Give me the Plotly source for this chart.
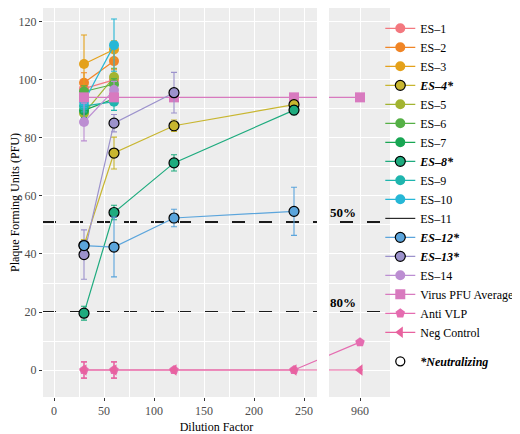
import plotly.graph_objects as go

# dilution factors
dil = [30, 60, 120, 240]
dil_ctrl = [30, 60, 120, 240, 960]
dil_short = [30, 60]

# non neutralizing sera (only two dilutions)
es1 = [97, 100]
es1_err = [2, 2]
es2 = [99, 106.5]
es2_err = [3.5, 3]
es3 = [105.5, 110.5]
es3_err = [10, 3]
es5 = [88.5, 101]
es5_err = [2, 3]
es6 = [96, 98.5]
es6_err = [2, 2]
es7 = [89.5, 93.5]
es7_err = [2.5, 2]
es9 = [91, 92.5]
es9_err = [2, 3]
es10 = [92.5, 112]
es10_err = [2, 9]
es14 = [85.5, 96.5]
es14_err = [6.5, 3]

# neutralizing sera
es4 = [43, 74.8, 84.2, 91.5]
es4_err = [2, 5.5, 2, 1.5]
es8 = [19.6, 54.3, 71.4, 89.6]
es8_err = [2.4, 2.5, 2.8, 1.6]
es12 = [42.9, 42.4, 52.4, 54.7]
es12_err = [1.5, 10.3, 3, 8.3]
es13 = [39.8, 85.1, 95.6]
es13_err = [8.5, 3, 7]

# controls
virus = [94, 94, 94, 94, 94]
anti_vlp = [0, 0, 0, 0, 9.6]
anti_vlp_err = [2.8, 2.8, 0, 0, 0]
neg_ctrl = [0, 0, 0, 0, 0]
neg_ctrl_err = [2.8, 2.8, 0, 0, 0]

cut_50 = 51
cut_80 = 20

x_ticks = [0, 50, 100, 150, 200, 250, 960]
x_minor = [25, 75, 125, 175, 225]

FONT = "Liberation Serif, Times New Roman, serif"


# broken x axis: everything past the break is shifted left
def brk(v):
    return v if v <= 263 else v - 654


def bx(lst):
    return [brk(v) for v in lst]


fig = go.Figure()


def add(label, x, y, err, color, symbol="circle", neut=False, r=0):
    fig.add_trace(go.Scatter(
        x=bx(x), y=y, name=label, mode="lines+markers",
        line=dict(color=color, width=1.2),
        marker=dict(symbol=symbol, size=10, color=color,
                    line=dict(color="black" if neut else color, width=1.2 if neut else 0)),
        error_y=dict(type="data", array=err, color=color, thickness=1.1, width=3) if err else None,
        legendrank=r, legendgroup="a",
    ))


add("ES–1", dil_short, es1, es1_err, "#F3787F", r=1)
add("ES–2", dil_short, es2, es2_err, "#F08526", r=2)
add("ES–3", dil_short, es3, es3_err, "#E4A11B", r=3)
add("ES–5", dil_short, es5, es5_err, "#A2B431", r=5)
add("ES–6", dil_short, es6, es6_err, "#55B046", r=6)
add("ES–7", dil_short, es7, es7_err, "#18A653", r=7)
add("ES–9", dil_short, es9, es9_err, "#1FB5AE", r=9)
add("ES–10", dil_short, es10, es10_err, "#26B7D6", r=10)
add("ES–14", dil_short, es14, es14_err, "#BC8ED2", r=14)

fig.add_trace(go.Scatter(x=[None], y=[None], name="ES–11", mode="lines",
                         line=dict(color="black", width=1), legendrank=11, legendgroup="a"))

add("Virus PFU Average", dil_ctrl, virus, None, "#D87ABF", symbol="square", r=15)
add("Anti VLP", dil_ctrl, anti_vlp, anti_vlp_err, "#E56CB0", symbol="pentagon", r=16)
add("Neg Control", dil_ctrl, neg_ctrl, neg_ctrl_err, "#E8629F", symbol="triangle-left", r=17)

add("<b><i>ES–4*</i></b>", dil, es4, es4_err, "#C8B630", neut=True, r=4)
add("<b><i>ES–8*</i></b>", dil, es8, es8_err, "#1EAB7E", neut=True, r=8)
add("<b><i>ES–13*</i></b>", dil[:3], es13, es13_err, "#9C92CC", neut=True, r=13)
add("<b><i>ES–12*</i></b>", dil, es12, es12_err, "#5BA5DC", neut=True, r=12)

fig.add_trace(go.Scatter(x=[None], y=[None], name="<b><i>*Neutralizing</i></b>", mode="markers",
                         marker=dict(symbol="circle-open", size=9, color="black", line=dict(width=1.3)),
                         legendrank=18, legendgroup="b"))

# 50% / 80% reference lines
for c, lab in [(cut_50, "50%"), (cut_80, "80%")]:
    fig.add_shape(type="line", xref="paper", x0=0, x1=1, y0=c, y1=c, layer="between",
                  line=dict(color="#1a1a1a", width=2, dash="13px,14px"))
    fig.add_annotation(x=brk(960) - 17, y=c, text="<b>" + lab + "</b>", showarrow=False,
                       yanchor="bottom", yshift=0, font=dict(family=FONT, size=13, color="black"))

# gap between the two pieces of the axis
fig.add_shape(type="rect", xref="x", yref="paper", x0=263, x1=275, y0=0, y1=1,
              fillcolor="white", line=dict(width=0), layer="above")

fig.update_layout(
    width=512, height=426,
    margin=dict(l=35, r=130, t=0, b=37, autoexpand=False),
    plot_bgcolor="#EDEDED", paper_bgcolor="white",
    font=dict(family=FONT, size=12, color="black"),
    showlegend=True,
    legend=dict(x=0.972, y=0.985, xanchor="left", yanchor="top", itemwidth=30,
                traceorder="grouped", tracegroupgap=10, bgcolor="rgba(0,0,0,0)",
                font=dict(family=FONT, size=12, color="black")),
    xaxis=dict(range=[-11, 336], tickvals=bx(x_ticks), ticktext=[str(t) for t in x_ticks],
               showgrid=True, gridcolor="white", gridwidth=1.1, zeroline=False,
               ticks="outside", ticklen=3, tickcolor="#333333", automargin=False,
               tickfont=dict(family=FONT, size=12, color="#4D4D4D"),
               minor=dict(tickvals=x_minor, showgrid=True, gridcolor="white", gridwidth=0.5, ticks=""),
               title=dict(text="Dilution Factor", font=dict(family=FONT, size=12), standoff=6)),
    yaxis=dict(range=[-9.3, 124.8], dtick=20, showgrid=True, gridcolor="white", gridwidth=1.1,
               zeroline=False, ticks="outside", ticklen=3, tickcolor="#333333", automargin=False,
               tickfont=dict(family=FONT, size=12, color="#4D4D4D"),
               minor=dict(dtick=10, showgrid=True, gridcolor="white", gridwidth=0.5, ticks=""),
               title=dict(text="Plaque Forming Units (PFU)", font=dict(family=FONT, size=12), standoff=9)),
)

fig.write_html("out.html")
